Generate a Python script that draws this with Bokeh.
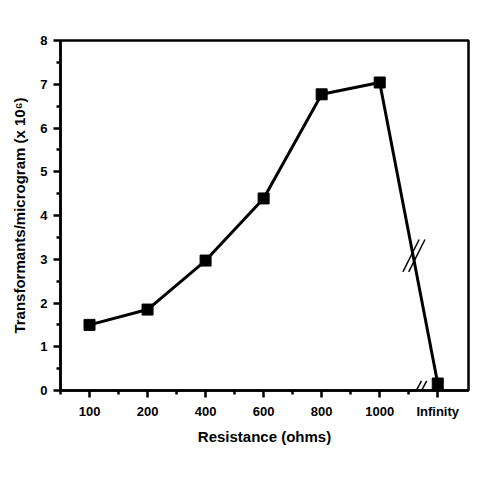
from bokeh.plotting import figure
from bokeh.models import FixedTicker, Range1d, Arrow, ColumnDataSource
from bokeh.embed import file_html
from bokeh.resources import INLINE

categories = ["100", "200", "400", "600", "800", "1000", "Infinity"]
values = [1.5, 1.85, 2.97, 4.39, 6.77, 7.04, 0.16]
y_ticks = [0, 1, 2, 3, 4, 5, 6, 7, 8]

xs = list(range(len(categories)))

p = figure(width=472, height=472, output_backend="svg", toolbar_location=None,
           x_range=Range1d(-0.5, 6.53), y_range=Range1d(0, 8),
           min_border_left=60, min_border_right=4, min_border_top=40, min_border_bottom=82)

p.background_fill_color = "white"
p.border_fill_color = "white"
p.outline_line_color = "black"
p.outline_line_width = 2.5
p.grid.visible = False

font = "Liberation Sans"

p.xaxis.ticker = FixedTicker(ticks=xs, minor_ticks=[i + 0.5 for i in range(-1, 6)])
p.xaxis.major_label_overrides = {i: c for i, c in enumerate(categories)}
p.yaxis.ticker = FixedTicker(ticks=y_ticks, minor_ticks=[i + 0.5 for i in range(8)])

for ax in (p.xaxis[0], p.yaxis[0]):
    ax.axis_line_width = 2.5
    ax.axis_line_color = "black"
    ax.major_tick_line_width = 2.5
    ax.minor_tick_line_width = 2.5
    ax.major_tick_in = 0
    ax.minor_tick_in = 0
    ax.major_tick_out = 7
    ax.minor_tick_out = 4
    ax.major_label_text_font = font
    ax.major_label_text_font_style = "bold"
    ax.major_label_text_font_size = "13px"
    ax.major_label_text_color = "black"
    ax.axis_label_text_font = font
    ax.axis_label_text_font_style = "bold"
    ax.axis_label_text_font_size = "15px"
    ax.axis_label_text_color = "black"

p.xaxis.axis_label = "Resistance (ohms)"
p.yaxis.axis_label = "Transformants/microgram (x 10⁶)"
p.xaxis.major_label_standoff = 6
p.yaxis.major_label_standoff = 6
p.xaxis.axis_label_standoff = 6
p.yaxis.axis_label_standoff = 9

src = ColumnDataSource(dict(x=xs, y=values))
p.line("x", "y", source=src, line_color="black", line_width=3)
p.scatter("x", "y", source=src, marker="square", size=11, fill_color="black", line_color="black")

# axis-break marks (decoration)
bx = 5.59
by = values[5] + (values[6] - values[5]) * (bx - 5) + 0.1
for off in (-0.05, 0.05):
    p.add_layout(Arrow(x_start=bx + off - 0.14, y_start=by - 0.37,
                       x_end=bx + off + 0.14, y_end=by + 0.37,
                       end=None, start=None, line_color="black", line_width=1.5))
ax_bx = 5.68
for off in (-0.045, 0.045):
    p.add_layout(Arrow(x_start=ax_bx + off - 0.085, y_start=-0.2,
                       x_end=ax_bx + off + 0.085, y_end=0.22,
                       end=None, start=None, line_color="black", line_width=1.5))

open("out.html", "w").write(file_html(p, INLINE))
